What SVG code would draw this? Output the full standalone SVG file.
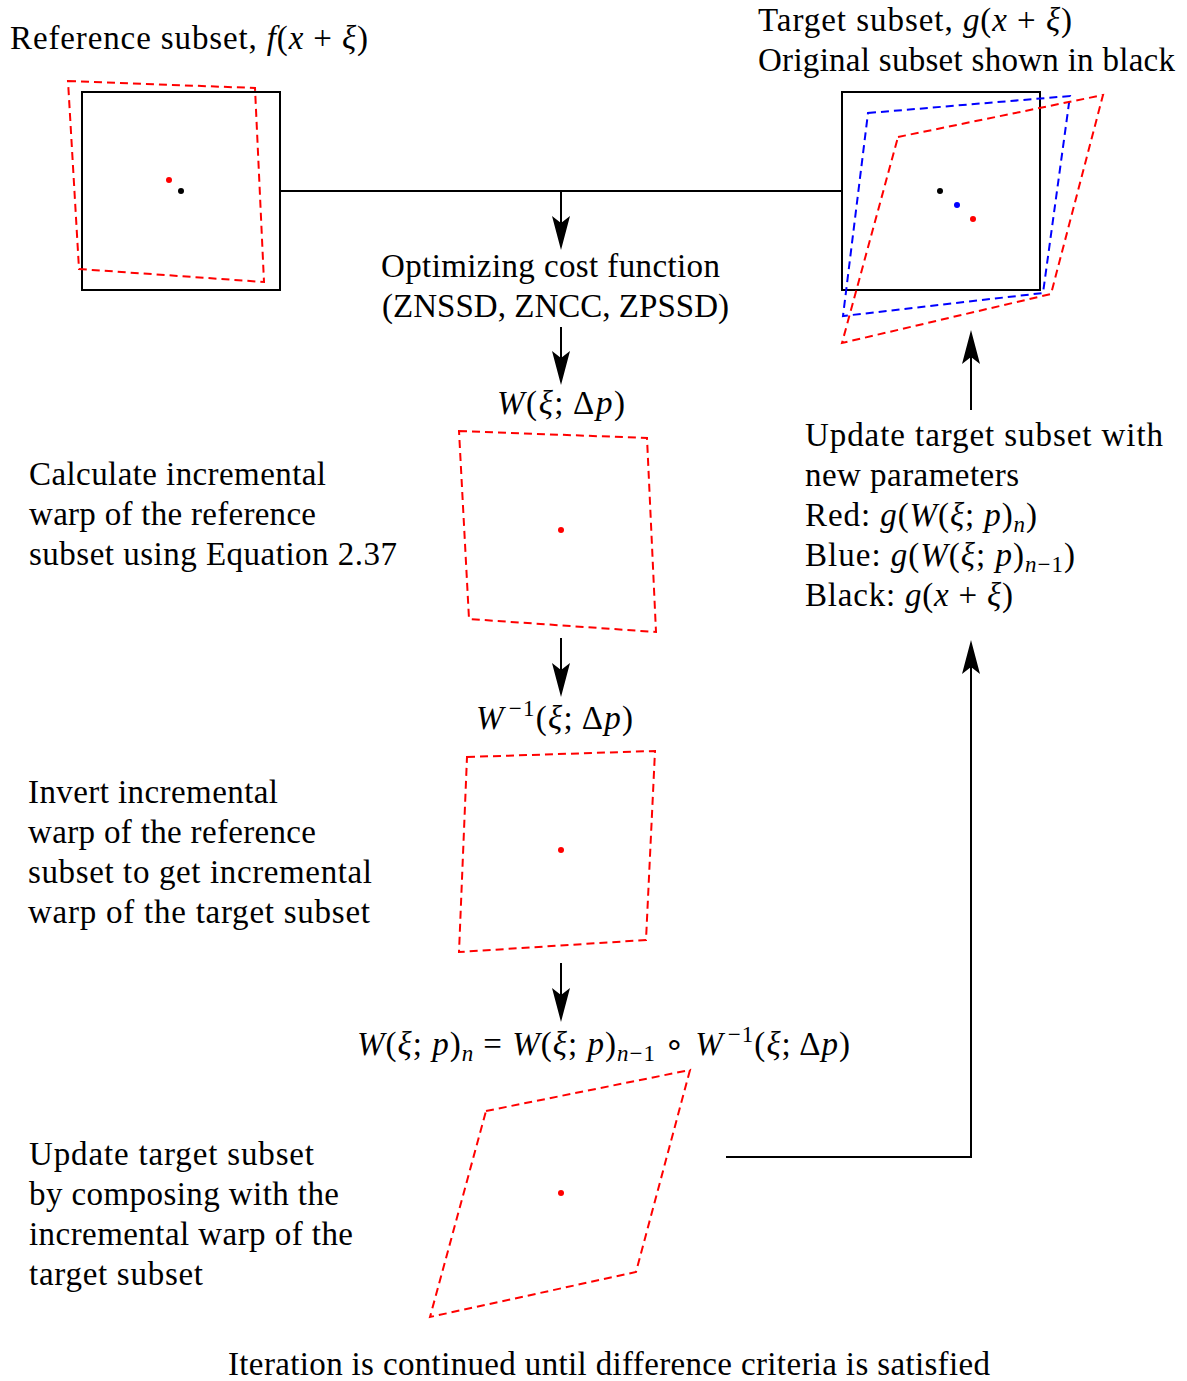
<svg xmlns="http://www.w3.org/2000/svg" width="1187" height="1381" viewBox="0 0 1187 1381">
<style>
text{font-family:"Liberation Serif","Times New Roman",serif;font-size:33px;fill:#000}
.i{font-style:italic}
.s{font-size:23px}
.box{fill:none;stroke:#000;stroke-width:2}
.rd{fill:none;stroke:#ff0000;stroke-width:2;stroke-dasharray:8,5}
.bd{fill:none;stroke:#0000ff;stroke-width:2;stroke-dasharray:8,5}
.ln{fill:none;stroke:#000;stroke-width:2}
</style>
<defs>
<marker id="ah" viewBox="0 0 34 18" refX="9" refY="9" markerWidth="34" markerHeight="18" orient="auto" markerUnits="userSpaceOnUse">
<path d="M0,0 L34,9 L0,18 L7,9 Z" fill="#000"/>
</marker>
</defs>
<rect width="1187" height="1381" fill="#fff"/>

<g id="reference">
<text x="10" y="49" textLength="358" lengthAdjust="spacing">Reference subset, <tspan class="i">f</tspan>(<tspan class="i">x</tspan> + <tspan class="i">ξ</tspan>)</text>
<rect class="box" x="82" y="92" width="198" height="198"/>
<polygon class="rd" points="68,81 255,88 264,282 79,269"/>
<circle cx="169" cy="180" r="3" fill="#ff0000"/>
<circle cx="181" cy="191" r="3" fill="#000"/>
</g>

<g id="target">
<text x="758" y="31" textLength="314" lengthAdjust="spacing">Target subset, <tspan class="i">g</tspan>(<tspan class="i">x</tspan> + <tspan class="i">ξ</tspan>)</text>
<text x="758" y="71" textLength="417" lengthAdjust="spacing">Original subset shown in black</text>
<rect class="box" x="842" y="92" width="198" height="198"/>
<polygon class="bd" points="868,113 1070,96 1043,293 843,316"/>
<polygon class="rd" points="898,137 1103,95 1051,294 842,343"/>
<circle cx="940" cy="191" r="3" fill="#000"/>
<circle cx="957" cy="205" r="3" fill="#0000ff"/>
<circle cx="973" cy="219" r="3" fill="#ff0000"/>
</g>

<g id="cost">
<text x="381" y="277" textLength="339" lengthAdjust="spacing">Optimizing cost function</text>
<text x="382" y="317" textLength="347" lengthAdjust="spacing">(ZNSSD, ZNCC, ZPSSD)</text>
</g>

<g id="incremental">
<text x="497" y="414" textLength="128" lengthAdjust="spacing"><tspan class="i">W</tspan>(<tspan class="i">ξ</tspan>; Δ<tspan class="i">p</tspan>)</text>
<polygon class="rd" points="459,431 647,438 656,632 469,619"/>
<circle cx="561" cy="530" r="3" fill="#ff0000"/>
<text x="29" y="485" textLength="297" lengthAdjust="spacing">Calculate incremental</text>
<text x="29" y="525" textLength="287" lengthAdjust="spacing">warp of the reference</text>
<text x="29" y="565" textLength="368" lengthAdjust="spacing">subset using Equation 2.37</text>
</g>

<g id="inverse">
<text x="476" y="729" textLength="157" lengthAdjust="spacing"><tspan class="i">W</tspan><tspan class="s" dx="4" dy="-13">−1</tspan><tspan dy="13">(</tspan><tspan class="i">ξ</tspan>; Δ<tspan class="i">p</tspan>)</text>
<polygon class="rd" points="467,757 655,751 646,940 459,952"/>
<circle cx="561" cy="850" r="3" fill="#ff0000"/>
<text x="28" y="803" textLength="250" lengthAdjust="spacing">Invert incremental</text>
<text x="28" y="843" textLength="288" lengthAdjust="spacing">warp of the reference</text>
<text x="28" y="883" textLength="344" lengthAdjust="spacing">subset to get incremental</text>
<text x="28" y="923" textLength="342" lengthAdjust="spacing">warp of the target subset</text>
</g>

<g id="compose">
<text x="357" y="1055" textLength="493" lengthAdjust="spacing"><tspan class="i">W</tspan>(<tspan class="i">ξ</tspan>; <tspan class="i">p</tspan>)<tspan class="s i" dy="6">n</tspan><tspan dy="-6" dx="9">= </tspan><tspan class="i">W</tspan>(<tspan class="i">ξ</tspan>; <tspan class="i">p</tspan>)<tspan class="s" dy="6"><tspan class="i">n</tspan>−1</tspan><tspan dy="-6" dx="8">∘ </tspan><tspan class="i">W</tspan><tspan class="s" dx="4" dy="-13">−1</tspan><tspan dy="13">(</tspan><tspan class="i">ξ</tspan>; Δ<tspan class="i">p</tspan>)</text>
<polygon class="rd" points="486,1111 690,1070 636,1272 430,1317"/>
<circle cx="561" cy="1193" r="3" fill="#ff0000"/>
<text x="29" y="1165" textLength="285" lengthAdjust="spacing">Update target subset</text>
<text x="29" y="1205" textLength="310" lengthAdjust="spacing">by composing with the</text>
<text x="29" y="1245" textLength="324" lengthAdjust="spacing">incremental warp of the</text>
<text x="29" y="1285" textLength="174" lengthAdjust="spacing">target subset</text>
</g>

<g id="update">
<text x="805" y="446" textLength="358" lengthAdjust="spacing">Update target subset with</text>
<text x="805" y="486" textLength="214" lengthAdjust="spacing">new parameters</text>
<text x="805" y="526" textLength="232" lengthAdjust="spacing">Red: <tspan class="i">g</tspan>(<tspan class="i">W</tspan>(<tspan class="i">ξ</tspan>; <tspan class="i">p</tspan>)<tspan class="s i" dy="6">n</tspan><tspan dy="-6">)</tspan></text>
<text x="805" y="566" textLength="270" lengthAdjust="spacing">Blue: <tspan class="i">g</tspan>(<tspan class="i">W</tspan>(<tspan class="i">ξ</tspan>; <tspan class="i">p</tspan>)<tspan class="s" dy="6"><tspan class="i">n</tspan>−1</tspan><tspan dy="-6">)</tspan></text>
<text x="805" y="606" textLength="208" lengthAdjust="spacing">Black: <tspan class="i">g</tspan>(<tspan class="i">x</tspan> + <tspan class="i">ξ</tspan>)</text>
</g>

<g id="footer">
<text x="228" y="1375" textLength="762" lengthAdjust="spacing">Iteration is continued until difference criteria is satisfied</text>
</g>

<g id="connectors">
<line class="ln" x1="280" y1="191" x2="842" y2="191"/>
<path class="ln" d="M561,191 V225" marker-end="url(#ah)"/>
<path class="ln" d="M561,327 V360" marker-end="url(#ah)"/>
<path class="ln" d="M561,638 V672" marker-end="url(#ah)"/>
<path class="ln" d="M561,963 V997" marker-end="url(#ah)"/>
<path class="ln" d="M971,410 V355" marker-end="url(#ah)"/>
<path class="ln" d="M726,1157 H971 V665" marker-end="url(#ah)"/>
</g>
</svg>
